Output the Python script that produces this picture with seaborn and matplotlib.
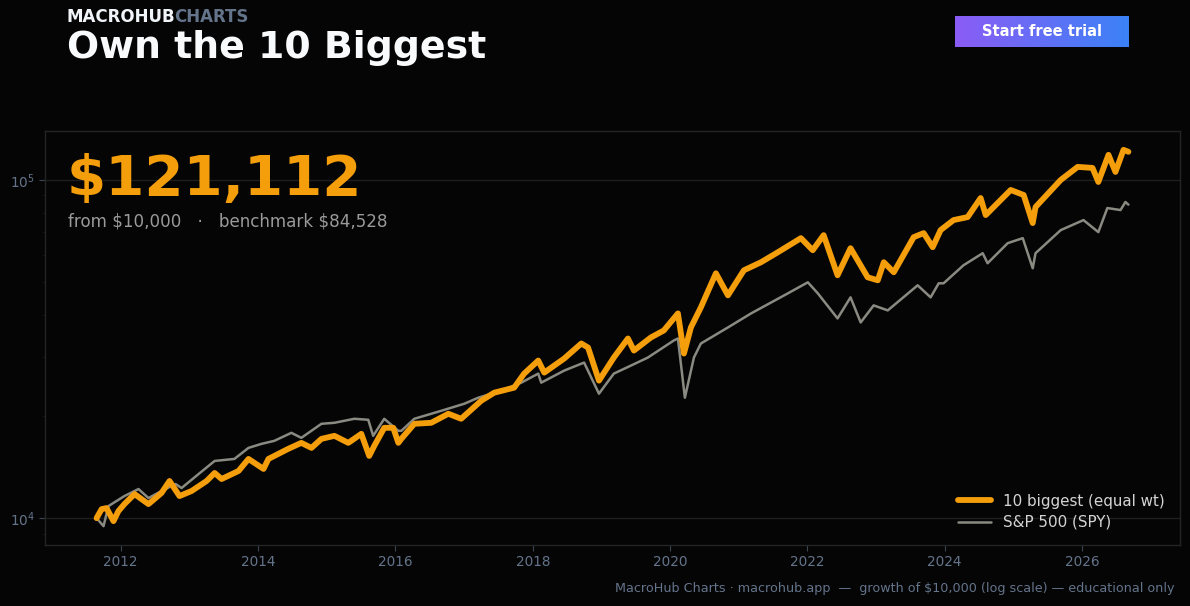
import pandas as pd
import numpy as np
import matplotlib
matplotlib.use("Agg")
import matplotlib.pyplot as plt
import matplotlib.dates as mdates
import seaborn as sns

# growth of $10,000 - 10 biggest (equal weight)
big_dates = ["2011-08-26", "2011-09-22", "2011-10-18", "2011-11-24", "2011-12-20", "2012-01-21",
             "2012-03-15", "2012-05-28", "2012-08-05", "2012-09-17", "2012-11-09", "2013-01-12",
             "2013-04-02", "2013-05-15", "2013-06-21", "2013-09-19", "2013-11-11", "2014-01-30",
             "2014-02-25", "2014-06-10", "2014-08-19", "2014-10-12", "2014-12-04", "2015-02-11",
             "2015-04-26", "2015-07-04", "2015-08-15", "2015-09-11", "2015-11-03", "2015-12-21",
             "2016-01-17", "2016-02-02", "2016-04-11", "2016-07-10", "2016-10-09", "2016-12-16",
             "2017-04-02", "2017-06-10", "2017-09-24", "2017-11-16", "2018-01-30", "2018-03-03",
             "2018-06-17", "2018-09-16", "2018-10-22", "2018-12-19", "2019-03-08", "2019-05-22",
             "2019-06-23", "2019-09-21", "2019-11-29", "2020-02-12", "2020-03-15", "2020-04-21",
             "2020-06-13", "2020-09-01", "2020-11-04", "2021-01-28", "2021-04-29", "2021-07-28",
             "2021-11-27", "2022-01-29", "2022-03-28", "2022-06-10", "2022-08-18", "2022-11-17",
             "2023-01-10", "2023-02-11", "2023-04-05", "2023-07-20", "2023-09-11", "2023-10-29",
             "2023-12-10", "2024-02-17", "2024-05-02", "2024-07-10", "2024-08-06", "2024-12-17",
             "2025-02-24", "2025-04-13", "2025-04-28", "2025-09-09", "2025-12-08", "2026-02-25",
             "2026-03-28", "2026-05-21", "2026-06-27", "2026-08-09", "2026-09-04"]
big_vals = [10000, 10634, 10707, 9797, 10490, 11004,
            11782, 11004, 11862, 12876, 11622, 12026,
            12876, 13600, 13053, 13787, 14964, 13977,
            14964, 16024, 16694, 16133, 17156, 17512,
            16694, 17753, 15275, 16355, 18496, 18496,
            16694, 17156, 19009, 19139, 20353, 19669,
            22243, 23493, 24309, 26749, 29234, 26933,
            29636, 32834, 31949, 25500, 29839, 33975,
            31301, 34209, 35885, 40304, 30666, 36628,
            41990, 52971, 45579, 54068, 57106, 61143,
            67281, 61985, 68675, 52252, 62837, 51543,
            50497, 57106, 53334, 67743, 69620, 63269,
            71062, 76086, 77662, 88428, 78731, 93396,
            90259, 74543, 83154, 100000, 109290, 108543,
            98642, 118630, 105617, 122752, 121112]

# S&P 500 (SPY) benchmark
spy_dates = ["2011-08-26", "2011-10-02", "2011-10-28", "2012-01-21", "2012-04-05", "2012-05-28",
             "2012-08-05", "2012-10-19", "2012-11-20", "2013-02-19", "2013-05-15", "2013-08-28",
             "2013-11-11", "2014-01-19", "2014-03-28", "2014-06-27", "2014-08-19", "2014-12-04",
             "2015-02-11", "2015-05-28", "2015-08-10", "2015-09-05", "2015-11-03", "2016-01-17",
             "2016-02-02", "2016-04-11", "2016-09-02", "2017-01-02", "2017-03-17", "2017-07-17",
             "2017-11-01", "2018-01-30", "2018-02-15", "2018-06-17", "2018-10-01", "2018-12-19",
             "2019-03-08", "2019-06-07", "2019-09-05", "2020-01-21", "2020-02-12", "2020-03-20",
             "2020-05-07", "2020-06-13", "2020-11-04", "2021-03-07", "2021-09-19", "2022-01-03",
             "2022-02-25", "2022-06-10", "2022-08-18", "2022-10-11", "2022-12-19", "2023-03-04",
             "2023-08-10", "2023-10-18", "2023-11-30", "2023-12-26", "2024-04-10", "2024-07-21",
             "2024-08-16", "2024-12-01", "2025-02-19", "2025-04-13", "2025-04-28", "2025-09-09",
             "2026-01-08", "2026-03-28", "2026-05-15", "2026-07-24", "2026-08-19", "2026-09-04"]
spy_vals = [10000, 9468, 10854, 11622, 12191, 11464,
            12026, 12615, 12275, 13507, 14761, 14964,
            16133, 16580, 16923, 17874, 17274, 19009,
            19139, 19669, 19535, 17512, 19669, 18120,
            18120, 19669, 20774, 21792, 22704, 23816,
            25154, 26749, 25154, 27303, 28837, 23333,
            26749, 28252, 29839, 33514, 33975, 22704,
            29839, 32834, 36628, 40304, 46206, 49812,
            46206, 38951, 44960, 37901, 42568, 41138,
            48801, 44960, 49473, 49473, 55947, 60727,
            56717, 65022, 67281, 54812, 60727, 71062,
            76086, 70097, 82587, 81467, 86044, 84528]

big = pd.DataFrame({"date": pd.to_datetime(big_dates), "value": big_vals})
spy = pd.DataFrame({"date": pd.to_datetime(spy_dates), "value": spy_vals})

BG = "#050505"
ORANGE = "#f59e0b"
GREY = "#8a8a82"
SLATE = "#64748b"

sns.set_style("dark", {"axes.facecolor": BG, "figure.facecolor": BG,
                       "axes.edgecolor": "#222222", "grid.color": "#1e1e1e"})
plt.rcParams["font.family"] = ["DejaVu Sans"]

fig = plt.figure(figsize=(11.9, 6.06), dpi=100)
ax = fig.add_axes([0.0378, 0.1007, 0.9538, 0.6831])

sns.lineplot(data=spy, x="date", y="value", ax=ax, color=GREY, lw=1.8, label="S&P 500 (SPY)")
sns.lineplot(data=big, x="date", y="value", ax=ax, color=ORANGE, lw=4.2, label="10 biggest (equal wt)")
ax.set_yscale("log")
ax.set_xlabel("")
ax.set_ylabel("")

ax.xaxis.set_major_locator(mdates.YearLocator(2))
ax.xaxis.set_major_formatter(mdates.DateFormatter("%Y"))
ax.tick_params(axis="both", which="major", colors="#3c4554", labelcolor=SLATE, labelsize=9.8,
               length=4, bottom=True, left=True)
ax.tick_params(axis="y", which="minor", length=2, colors="#161616", left=True)
ax.grid(True, axis="y", which="major", color="#1e1e1e", lw=1)
ax.grid(False, axis="x")
for s in ax.spines.values():
    s.set_color("#242424")
    s.set_linewidth(1)

# legend: orange first
h, l = ax.get_legend_handles_labels()
leg = ax.legend(h[::-1], l[::-1], loc="lower right", frameon=False, fontsize=10.9,
                handlelength=2.2, handletextpad=0.8, labelspacing=0.4, borderaxespad=0.6)
for t in leg.get_texts():
    t.set_color("#d4d4d4")

# headline numbers inside the axes
fig.text(0.056, 0.703, "$121,112", color=ORANGE, fontsize=40.5, fontweight="bold", va="center")
fig.text(0.057, 0.635, r"from \$10,000   ·   benchmark \$84,528", color="#9a9a9a", fontsize=12.1, va="center")

# header
t1 = fig.text(0.0563, 0.972, "MACROHUB", color="#f1f5f9", fontsize=12, fontweight="bold", va="center")
fig.canvas.draw()
bb = t1.get_window_extent()
fig.text(bb.x1 / fig.bbox.width - 0.001, 0.972, "CHARTS", color=SLATE, fontsize=12, fontweight="bold", va="center")
fig.text(0.0563, 0.921, "Own the 10 Biggest", color="#f8fafc", fontsize=27.3, fontweight="bold", va="center")

# button with gradient
bx0, bx1, by0, by1 = 955 / 1190, 1129 / 1190, 1 - 47 / 606, 1 - 16 / 606
grad = np.linspace(0, 1, 256).reshape(1, -1)
cmap = matplotlib.colors.LinearSegmentedColormap.from_list("btn", ["#8b5cf6", "#3b82f6"])
bax = fig.add_axes([bx0, by0, bx1 - bx0, by1 - by0])
bax.imshow(grad, aspect="auto", cmap=cmap, extent=[0, 1, 0, 1])
bax.set_axis_off()
bax.text(0.5, 0.5, "Start free trial", color="white", fontsize=10.5, fontweight="bold",
         ha="center", va="center", transform=bax.transAxes)

# footer
fig.text(0.9866, 0.029, "MacroHub Charts · macrohub.app  —  growth of $10,000 (log scale) — educational only",
         color=SLATE, fontsize=9.2, ha="right", va="center")

fig.savefig("out.png", dpi=100, facecolor=BG)
